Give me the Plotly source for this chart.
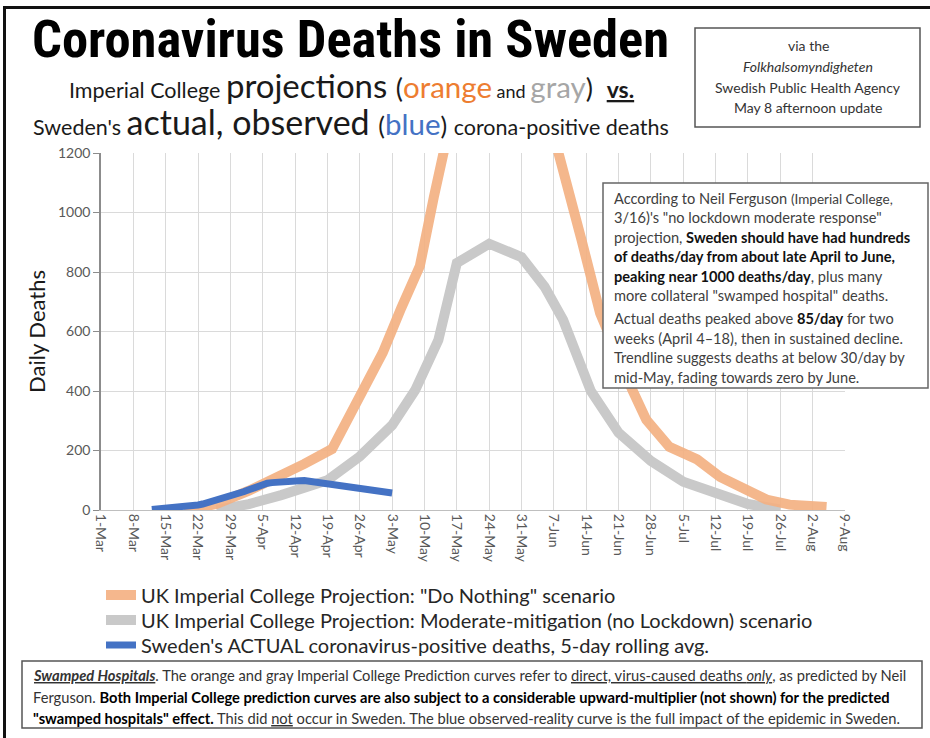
import plotly.graph_objects as go

# ---------------- data ----------------
tick_dates = ["2020-03-01", "2020-03-08", "2020-03-15", "2020-03-22", "2020-03-29", "2020-04-05",
              "2020-04-12", "2020-04-19", "2020-04-26", "2020-05-03", "2020-05-10", "2020-05-17",
              "2020-05-24", "2020-05-31", "2020-06-07", "2020-06-14", "2020-06-21", "2020-06-28",
              "2020-07-05", "2020-07-12", "2020-07-19", "2020-07-26", "2020-08-02", "2020-08-09"]
tick_labels = ["1-Mar", "8-Mar", "15-Mar", "22-Mar", "29-Mar", "5-Apr", "12-Apr", "19-Apr", "26-Apr",
               "3-May", "10-May", "17-May", "24-May", "31-May", "7-Jun", "14-Jun", "21-Jun", "28-Jun",
               "5-Jul", "12-Jul", "19-Jul", "26-Jul", "2-Aug", "9-Aug"]

orange_dates = ["2020-03-19", "2020-03-26", "2020-04-02", "2020-04-09", "2020-04-14", "2020-04-20",
                "2020-04-26", "2020-05-01", "2020-05-05", "2020-05-09", "2020-05-12", "2020-05-16",
                "2020-05-24", "2020-06-01", "2020-06-08", "2020-06-13", "2020-06-17", "2020-06-24",
                "2020-06-27", "2020-07-02", "2020-07-08", "2020-07-13", "2020-07-18", "2020-07-23",
                "2020-07-28", "2020-08-05"]
orange_vals = [0, 20, 65, 115, 155, 205, 380, 530, 680, 820, 1050, 1400, 1900, 1700, 1200, 907, 662,
               403, 303, 212, 170, 111, 70, 35, 18, 10]

gray_dates = ["2020-03-26", "2020-04-02", "2020-04-09", "2020-04-14", "2020-04-19", "2020-04-26",
              "2020-05-03", "2020-05-08", "2020-05-13", "2020-05-17", "2020-05-24", "2020-05-31",
              "2020-06-05", "2020-06-09", "2020-06-15", "2020-06-21", "2020-06-28", "2020-07-05",
              "2020-07-12", "2020-07-19", "2020-07-26"]
gray_vals = [0, 20, 50, 75, 100, 180, 285, 403, 571, 830, 895, 850, 750, 639, 400, 260, 165, 95, 60,
             20, 2]

blue_dates = ["2020-03-12", "2020-03-13", "2020-03-14", "2020-03-15", "2020-03-16", "2020-03-17",
              "2020-03-18", "2020-03-19", "2020-03-20", "2020-03-21", "2020-03-22", "2020-03-23",
              "2020-03-24", "2020-03-25", "2020-03-26", "2020-03-27", "2020-03-28", "2020-03-29",
              "2020-03-30", "2020-03-31", "2020-04-01", "2020-04-02", "2020-04-03", "2020-04-04",
              "2020-04-05", "2020-04-06", "2020-04-07", "2020-04-08", "2020-04-09", "2020-04-10",
              "2020-04-11", "2020-04-12", "2020-04-13", "2020-04-14", "2020-04-15", "2020-04-16",
              "2020-04-17", "2020-04-18", "2020-04-19", "2020-04-20", "2020-04-21", "2020-04-22",
              "2020-04-23", "2020-04-24", "2020-04-25", "2020-04-26", "2020-04-27", "2020-04-28",
              "2020-04-29", "2020-04-30", "2020-05-01", "2020-05-02", "2020-05-03"]
blue_vals = [2, 3, 4, 5, 6, 7, 8, 10, 12, 14, 17, 20, 24, 28, 32, 36, 40, 45, 50, 55, 62, 68, 75, 82,
             86, 90, 92, 94, 93, 95, 97, 96, 98, 99, 97, 94, 92, 89, 86, 83, 82, 80, 79, 78, 77, 75,
             72, 70, 69, 68, 66, 62, 57]

series_names = ['UK Imperial College Projection: "Do Nothing" scenario',
                'UK Imperial College Projection: Moderate-mitigation (no Lockdown) scenario',
                "Sweden's ACTUAL coronavirus-positive deaths, 5-day rolling avg."]

# ---------------- layout helpers ----------------
W, H = 930, 738
L, R, T, BY = 101, 845, 153, 510
PW, PH = R - L, BY - T


def PX(x):
    return (x - L) / PW


def PY(y):
    return (BY - y) / PH


FONT = "Lato, 'Open Sans', sans-serif"
NARROW = "'Liberation Sans Narrow', 'Arial Narrow', 'Roboto Condensed', Lato, sans-serif"

fig = go.Figure()
fig.add_trace(go.Scatter(x=gray_dates, y=gray_vals, mode="lines", name=series_names[1],
                         line=dict(color="#C9C9C9", width=10), legend="legend2"))
fig.add_trace(go.Scatter(x=orange_dates, y=orange_vals, mode="lines", name=series_names[0],
                         line=dict(color="#F4B183", width=10), opacity=0.92, legend="legend"))
fig.add_trace(go.Scatter(x=blue_dates, y=blue_vals, mode="lines", name=series_names[2],
                         line=dict(color="#4472C4", width=7), legend="legend3"))

annotations = []


def ann(text, x, y, size, xanchor="center", color="#000", family=FONT, yanchor="middle", **kw):
    annotations.append(dict(text=text, x=PX(x), y=PY(y), xref="paper", yref="paper",
                            xanchor=xanchor, yanchor=yanchor, showarrow=False,
                            font=dict(size=size, color=color, family=family), **kw))


# title & subtitles
ann("<b>Coronavirus Deaths in Sweden</b>", 350, 39, 52.5, family=NARROW)
ann('<span style="font-size:21.5px">Imperial College </span><span style="font-size:33px">projections </span>'
    '<span style="font-size:27px">(</span><span style="font-size:29.5px;color:#ED7D31">orange</span>'
    '<span style="font-size:18px"> and </span><span style="font-size:29.5px;color:#A6A6A6">gray</span>'
    '<span style="font-size:27px">)  </span><span style="font-size:23px"><b><u>vs.</u></b></span>',
    351, 85, 22, color="#1a1a1a")
ann('<span style="font-size:21.5px">Sweden\'s </span><span style="font-size:34px">actual, observed </span>'
    '<span style="font-size:25px">(</span><span style="font-size:29.5px;color:#4472C4">blue</span>'
    '<span style="font-size:25px">) </span><span style="font-size:21.5px">corona-positive deaths</span>',
    351, 121, 22, color="#1a1a1a")

# top-right source box
src_lines = ["via the", "<i>Folkhalsomyndigheten</i>", "Swedish Public Health Agency", "May 8 afternoon update"]
for i, t in enumerate(src_lines):
    ann(t, 808, 46 + i * 20.5, 14, color="#333")

# explanatory box
box_lines = [
    'According to Neil Ferguson <span style="font-size:13.5px">(Imperial College,</span>',
    '3/16)\'s "no lockdown moderate response"',
    'projection, <b><span style="color:#111">Sweden should have had hundreds</span></b>',
    '<b><span style="color:#111">of deaths/day from about late April to June,</span></b>',
    '<b><span style="color:#111">peaking near 1000 deaths/day</span></b>, plus many',
    'more collateral "swamped hospital" deaths.',
    'Actual deaths peaked above <b><span style="color:#111">85/day</span></b> for two',
    'weeks (April 4\u201318), then in sustained decline.',
    'Trendline suggests deaths at below 30/day by',
    'mid-May, fading towards zero by June.',
]
box_y = [198, 217.5, 237, 256.5, 276, 295.5, 318, 338, 357.5, 377]
for t, yy in zip(box_lines, box_y):
    ann(t, 612, yy, 14.6, xanchor="left", color="#404040")

# bottom note box
note_lines = [
    '<b><i><u>Swamped Hospitals</u></i></b>. The orange and gray Imperial College Prediction curves refer to '
    '<u>direct, virus-caused deaths <i>only</i></u>, as predicted by Neil',
    'Ferguson. <b><span style="color:#000">Both Imperial College prediction curves are also subject to a '
    'considerable upward-multiplier (not shown) for the predicted</span></b>',
    '<b><span style="color:#000">"swamped hospitals" effect.</span></b> This did <u>not</u> occur in Sweden. '
    'The blue observed-reality curve is the full impact of the epidemic in Sweden.',
]
for i, t in enumerate(note_lines):
    ann(t, 31, 675 + i * 21.5, 14.7, xanchor="left", color="#333")

shapes = [
    # outer frame
    dict(type="rect", xref="paper", yref="paper", x0=PX(4.5), x1=PX(940), y0=PY(7.5), y1=PY(750),
         line=dict(color="#111", width=3), fillcolor="rgba(0,0,0,0)", layer="above"),
    # source box
    dict(type="rect", xref="paper", yref="paper", x0=PX(695), x1=PX(920), y0=PY(28), y1=PY(127),
         line=dict(color="#555", width=1.5), fillcolor="white", layer="below"),
    # explanatory box
    dict(type="rect", xref="paper", yref="paper", x0=PX(603), x1=PX(928), y0=PY(183), y1=PY(388),
         line=dict(color="#666", width=1.5), fillcolor="white", layer="above"),
    # bottom box
    dict(type="rect", xref="paper", yref="paper", x0=PX(22), x1=PX(922), y0=PY(661), y1=PY(728),
         line=dict(color="#555", width=1.5), fillcolor="white", layer="below"),
]


def legend_at(y_center):
    return dict(x=PX(101), y=PY(y_center), xanchor="left", yanchor="middle",
                bgcolor="rgba(0,0,0,0)", font=dict(size=20, color="#262626", family=FONT),
                itemwidth=30)


fig.update_layout(
    width=W, height=H,
    margin=dict(l=L, r=W - R, t=T, b=H - BY, pad=0),
    paper_bgcolor="white", plot_bgcolor="white",
    font=dict(family=FONT, color="#404040"),
    showlegend=True,
    legend=legend_at(595),
    legend2=legend_at(620),
    legend3=legend_at(645),
    annotations=annotations,
    shapes=shapes,
)
fig.update_xaxes(type="date", range=["2020-03-01", "2020-08-09"], tickmode="array",
                 tickvals=tick_dates, ticktext=tick_labels, tickangle=90,
                 tickfont=dict(size=14, color="#595959", family=FONT),
                 showgrid=True, gridcolor="#DADADA", gridwidth=1,
                 showline=True, linecolor="#BFBFBF", linewidth=1, ticks="", zeroline=False,
                 automargin=False)
fig.update_yaxes(range=[0, 1200], tickmode="linear", tick0=0, dtick=200,
                 tickfont=dict(size=14, color="#595959", family=FONT),
                 showgrid=True, gridcolor="#DADADA", gridwidth=1,
                 showline=True, linecolor="#8C8C8C", linewidth=1.5, ticks="outside", ticklen=6,
                 tickcolor="#8C8C8C", zeroline=False, automargin=False,
                 title=dict(text="Daily Deaths", font=dict(size=22, color="#1a1a1a", family=FONT),
                            standoff=6))

fig.write_html("out.html", config={"displayModeBar": False},
               post_script="document.body.style.margin='0';document.body.style.overflow='hidden';")
